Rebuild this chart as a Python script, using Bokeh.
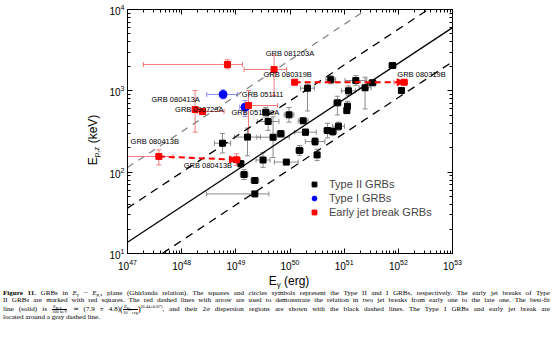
import math
from bokeh.plotting import figure
from bokeh.models import (ColumnDataSource, Whisker, TeeHead, LogAxis, Legend, LegendItem,
                          Arrow, NormalHead, Div, Range1d, CustomJSTickFormatter)
from bokeh.layouts import column, row
from bokeh.embed import file_html
from bokeh.resources import INLINE
from bokeh.core.properties import value

# ---------------- data ----------------
# Type II GRBs: E_gamma (erg), E_p,z (keV), errors in dex (lower, upper)
t2_E = [7.8e51, 1.14e52, 5.66e50, 1.64e51, 2.43e51, 3.33e51, 2.1e50, 1.2e51, 7.5e50, 1.15e51,
        1.12e51, 9.6e49, 1.75e50, 3.57e49, 3.95e49, 6.76e49, 1.93e50, 4.92e50, 6.17e50, 7.85e50,
        5.68e48, 1.64e49, 4.87e49, 1.5e50, 3.16e50, 3.18e49, 8.55e49, 1.24e49, 1.42e49, 2.24e49,
        2.24e49, 2.9e50]
t2_Ep = [2050, 1010, 1370, 1340, 1090, 1256, 1077, 1000, 713, 647,
         573, 507, 428, 546, 420, 297, 310, 325, 316, 367,
         227, 270, 269, 185, 163, 141, 133, 127, 93.5, 79,
         54, 238]
t2_xerr_lo = [.07, .03, .09, .2, .11, .07, .13, .13, .07, .05, .05, .09, .09, .05, .2, .07, .2, .07,
              .07, .11, .15, .24, .3, .07, .05, .13, .22, .05, .07, .07, .89, .18]
t2_xerr_hi = [.07, .03, .09, .2, .11, .07, .13, .13, .07, .05, .05, .09, .09, .05, .2, .07, .2, .07,
              .07, .11, .15, .24, .3, .07, .05, .13, .22, .05, .07, .07, .26, .18]
t2_yerr_lo = [.03, .02, .05, .06, .26, .03, .28, .06, .15, .06, .04, .09, .03, .06, .11, .04, .04, .09,
              .05, .05, .12, .23, .25, .06, .07, .09, .03, .04, .06, .03, .03, .05]
t2_yerr_hi = [.03, .02, .05, .06, .13, .03, .05, .06, .08, .06, .04, .09, .03, .06, .11, .04, .04, .09,
              .05, .05, .12, .11, .25, .06, .07, .09, .03, .04, .06, .03, .03, .05]

# Type I GRBs
t1_E = [5.82e48, 1.48e49]
t1_Ep = [902, 630]
t1_E_lo = [2.9e48, 1.18e49]
t1_E_hi = [1.07e49, 1.81e49]
t1_Ep_lo = [798, 483]
t1_Ep_hi = [1030, 760]

# Early jet break GRBs (None = no error bar)
jb_E = [7.0e48, 5.08e49, 1.22e50, 1.28e52, 1.71e49, 1.77e48, 2.43e48, 3.79e47, 1.03e49]
jb_Ep = [2110, 1828, 1276, 1276, 660, 589, 557, 156, 142]
jb_E_lo = [1.97e47, 1.42e49, None, 8.3e51, 1.53e49, None, 1.96e48, 1.0e47, 8.7e48]
jb_E_hi = [1.33e49, 8.6e49, None, 1.48e52, 5.87e49, None, 6.07e48, 6.9e47, 1.22e49]
jb_Ep_lo = [1867, 877, None, None, 269, 310, None, 123, 121]
jb_Ep_hi = [2410, 2718, None, None, 1010, 1008, None, 188, 168]
jb_links = [(2, 3), (7, 8)]  # early -> late jet break

# GRB name labels (text, E, Ep)
lab_text = ["GRB 081203A", "GRB 080319B", "GRB 080319B", "GRB 051111", "GRB 080413A",
            "GRB 090729A", "GRB 051109A", "GRB 080413B", "GRB 080413B"]
lab_E = [3.57e49, 3.24e49, 9.6e51, 1.29e49, 2.77e47, 7.56e47, 8.3e48, 1.14e47, 1.09e48]
lab_Ep = [2850, 1575, 1590, 902, 781, 585, 546, 238, 121]

# Ghirlanda relation: Ep/100keV = 7.9 (E/1e51)^0.44
fit_norm = 7.9
fit_slope = 0.44
fit_2sigma_dex = 0.42
gray_offset_dex = 0.92

x_lim = (1e47, 1e53)
y_lim = (10, 1e4)

# ---------------- layout constants ----------------
YLAB_W = 100
W, H = 553 - YLAB_W, 277
FL, FR, FT, FB = 27, 452 - YLAB_W, 9, 253
FONT = "Liberation Sans"

p = figure(width=W, height=H, x_axis_type="log", y_axis_type="log",
           x_range=Range1d(*x_lim), y_range=Range1d(*y_lim),
           output_backend="svg", toolbar_location=None,
           min_border_left=FL, min_border_right=W - FR, min_border_top=FT, min_border_bottom=H - FB)
p.background_fill_color = "white"
p.border_fill_color = "white"
p.outline_line_color = "black"
p.outline_line_width = 1
p.xgrid.visible = False
p.ygrid.visible = False

for ax in (p.xaxis[0], p.yaxis[0]):
    ax.ticker.num_minor_ticks = 10
    ax.major_tick_in = 5
    ax.major_tick_out = 0
    ax.minor_tick_in = 3
    ax.minor_tick_out = 0
    ax.axis_line_color = "black"
    ax.major_tick_line_color = "black"
    ax.minor_tick_line_color = "black"
    ax.major_label_text_font = FONT
    ax.major_label_text_font_size = "10px"
    ax.major_label_text_color = "black"
p.xaxis.major_label_standoff = 5
p.yaxis.major_label_standoff = 3

for side, tick_src in (("above", p.xaxis[0].ticker), ("right", p.yaxis[0].ticker)):
    ax = LogAxis(ticker=tick_src, major_tick_in=5, major_tick_out=0, minor_tick_in=3, minor_tick_out=0,
                 formatter=CustomJSTickFormatter(code="return ''"),
                 major_label_text_font_size="2px", major_label_standoff=0, axis_line_color="black")
    p.add_layout(ax, side)

# ---------------- relation lines ----------------
lx = list(x_lim)


def rel(x, off):
    return [100 * fit_norm * (v / 1e51) ** fit_slope * 10 ** off for v in x]


p.line(lx, rel(lx, gray_offset_dex), line_color="#7f7f7f", line_width=1.2, line_dash="7 6")
p.line(lx, rel(lx, fit_2sigma_dex), line_color="black", line_width=1.3, line_dash="8 6")
p.line(lx, rel(lx, -fit_2sigma_dex), line_color="black", line_width=1.3, line_dash="8 6")
p.line(lx, rel(lx, 0), line_color="black", line_width=1.3)

# ---------------- error bars ----------------


def whiskers(base, lower, upper, dim, color):
    src = ColumnDataSource(dict(base=base, lower=lower, upper=upper))
    w = Whisker(source=src, base="base", lower="lower", upper="upper", dimension=dim,
                line_color=color, line_width=1,
                upper_head=TeeHead(size=5, line_color=color, line_width=1),
                lower_head=TeeHead(size=5, line_color=color, line_width=1))
    p.add_layout(w)


gray = "#8a8a8a"
whiskers(t2_Ep, [e * 10 ** -d for e, d in zip(t2_E, t2_xerr_lo)],
         [e * 10 ** d for e, d in zip(t2_E, t2_xerr_hi)], "width", gray)
whiskers(t2_E, [e * 10 ** -d for e, d in zip(t2_Ep, t2_yerr_lo)],
         [e * 10 ** d for e, d in zip(t2_Ep, t2_yerr_hi)], "height", gray)

blue_e = "#8f8fff"
whiskers(t1_Ep, t1_E_lo, t1_E_hi, "width", blue_e)
whiskers(t1_E, t1_Ep_lo, t1_Ep_hi, "height", blue_e)

red_e = "#f37b7b"
ix = [i for i in range(len(jb_E)) if jb_E_lo[i] is not None]
whiskers([jb_Ep[i] for i in ix], [jb_E_lo[i] for i in ix], [jb_E_hi[i] for i in ix], "width", red_e)
iy = [i for i in range(len(jb_E)) if jb_Ep_lo[i] is not None]
whiskers([jb_E[i] for i in iy], [jb_Ep_lo[i] for i in iy], [jb_Ep_hi[i] for i in iy], "height", red_e)

for a, b in jb_links:
    p.add_layout(Arrow(x_start=jb_E[a], y_start=jb_Ep[a], x_end=jb_E[b], y_end=jb_Ep[b],
                       line_color="red", line_width=2, line_dash="6 4",
                       end=NormalHead(size=7, fill_color="red", line_color="red", line_width=1)))

# ---------------- markers ----------------
r2 = p.scatter(t2_E, t2_Ep, marker="square", size=6, fill_color="black", line_color="black")
r1 = p.scatter(t1_E, t1_Ep, marker="circle", size=8, fill_color="blue", line_color="blue")
rj = p.scatter(jb_E, jb_Ep, marker="square", size=6, fill_color="red", line_color="red")

p.text(lab_E, lab_Ep, text=lab_text, text_font=value(FONT), text_font_size="7.5px",
       text_baseline="middle", text_align="left", text_color="black")

# ---------------- legend ----------------
legend = Legend(items=[LegendItem(label="Type II GRBs", renderers=[r2]),
                       LegendItem(label="Type I GRBs", renderers=[r1]),
                       LegendItem(label="Early jet break GRBs", renderers=[rj])],
                location=(180, 34), padding=0, margin=0, spacing=0,
                glyph_width=14, glyph_height=12, label_height=14, label_standoff=8,
                label_text_font=FONT, label_text_font_size="11px",
                border_line_alpha=0, background_fill_alpha=0)
p.add_layout(legend)

# ---------------- axis labels (HTML) ----------------
lab_style = "font-family:'Liberation Sans',Arial,sans-serif;font-size:12px;color:#000;white-space:nowrap;"
sub_style = "font-size:8px;vertical-align:-2px;line-height:0;"
ylab = Div(text=(f"<div style='position:relative;width:{YLAB_W}px;height:{H}px'>"
                 f"<div style=\"position:absolute;left:94px;top:140px;transform:translate(-50%,-50%) rotate(-90deg);{lab_style}\">"
                 f"E<span style='{sub_style}'>p,z</span> (keV)</div></div>"),
           width=YLAB_W, height=H, margin=0)
xlab = Div(text=(f"<div style='position:relative;width:553px;height:13px'>"
                 f"<div style=\"position:absolute;left:289px;top:-2px;line-height:13px;transform:translateX(-50%);{lab_style}\">"
                 f"E<span style='{sub_style}'>γ</span> (erg)</div></div>"),
           width=553, height=13, margin=0)

# ---------------- caption ----------------
sub = "<sub style='font-size:5px;line-height:0;vertical-align:-1px'>{}</sub>"
frac = ("<span style='display:inline-block;vertical-align:middle;text-align:center;font-size:4.5px;line-height:4.1px'>"
        "<span style='display:block;border-bottom:0.5px solid #000;padding:0 1px'>{}</span>"
        "<span style='display:block'>{}</span></span>")
big = "<span style='font-size:9px;line-height:0;vertical-align:-1px'>{}</span>"
just = "text-align:justify;text-align-last:justify;"
line1 = ("<b>Figure 11.</b> GRBs in <i>E</i>" + sub.format("γ") + " − <i>E</i>" + sub.format("p,z") +
         " plane (Ghirlanda relation). The squares and circles symbols represent the Type II and I GRBs, "
         "respectively. The early jet breaks of Type")
line2 = ("II GRBs are marked with red squares. The red dashed lines with arrow are used to demonstrate the "
         "relation in two jet breaks from early one to the late one. The best-fit")
line3 = ("line (solid) is " + frac.format("<i>E</i>" + sub.format("p,z"), "100 keV") + " ≃ (7.9 ± 4.8)" +
         big.format("(") + frac.format("<i>E</i>" + sub.format("γ"), "10<sup style='font-size:3.4px;line-height:0'>51</sup> erg") +
         big.format(")") + "<sup style='font-size:4.6px;vertical-align:3px;line-height:0'>(0.44±0.07)</sup>"
         ", and their 2<i>σ</i> dispersion regions are shown with the black dashed lines. "
         "The Type I GRBs and early jet break are")
line4 = "located around a gray dashed line."
html = ("<div style=\"font-family:'Liberation Serif','Times New Roman',serif;font-size:7.1px;"
        "line-height:7px;color:#000;width:547px\">"
        f"<div style='{just}'>{line1}</div>"
        f"<div style='{just}'>{line2}</div>"
        f"<div style='{just}line-height:9px;padding-top:0.5px'>{line3}</div>"
        f"<div>{line4}</div></div>")
caption = Div(text=html, width=547, height=60, margin=(0, 3, 0, 3))

layout = column(row(ylab, p, spacing=0), xlab, caption, spacing=0)
open("out.html", "w").write(file_html(layout, INLINE))
